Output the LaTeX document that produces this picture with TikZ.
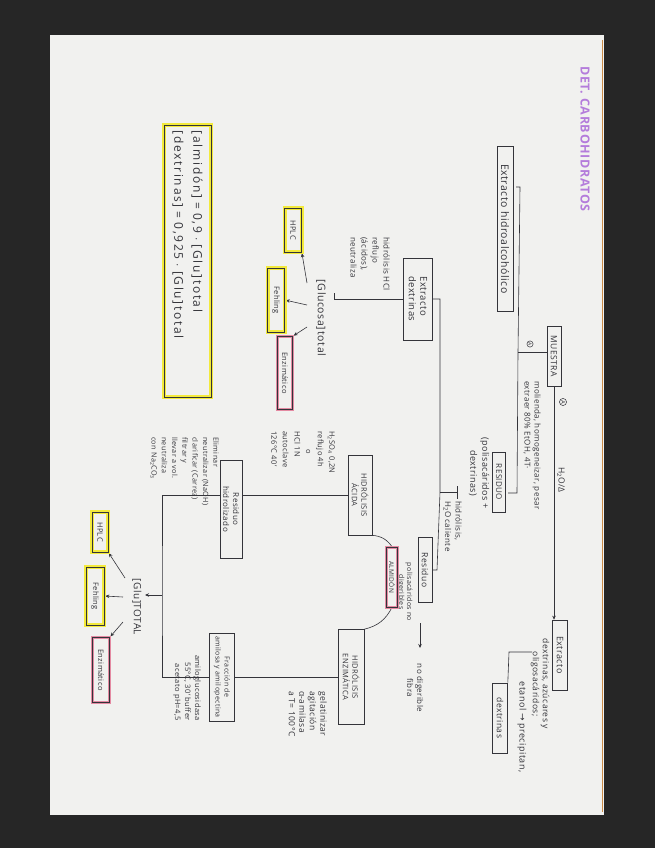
\documentclass[tikz,border=0pt]{standalone}
\usepackage{fontspec}
\setmainfont{Open Sans}[LetterSpace=5]
\newfontfamily\symf{DejaVu Sans}
\newfontfamily\widef{Open Sans}[LetterSpace=14]
\usetikzlibrary{arrows.meta,backgrounds}
\definecolor{ink}{HTML}{34343A}
\definecolor{paper}{HTML}{F1F1EF}
\definecolor{darkbg}{HTML}{262626}
\definecolor{hly}{HTML}{F3EA3C}
\definecolor{hlp}{HTML}{E48AA2}
\definecolor{purp}{HTML}{B47CDB}
\definecolor{edgec}{HTML}{C98A45}
\newcommand{\fs}[1]{\fontsize{#1}{#1}\selectfont}
\begin{document}
\begin{tikzpicture}[x=1pt,y=-1pt,
  every node/.style={text=ink},
  lbl/.style={rotate=-90, inner sep=1pt},
  bx/.style={lbl, draw=ink, line width=0.6pt, inner sep=2pt},
  hlbox/.style={bx, preaction={draw=hly, line width=4pt}},
  pkbox/.style={bx, preaction={draw=hlp, line width=3pt}},
  con/.style={draw=ink, line width=0.6pt},
  arr/.style={con, -{Stealth[length=4pt,width=3.5pt]}},
  circA/.style={circle, draw=ink, line width=0.5pt, inner sep=0.5pt, rotate=-90}
  ]
\useasboundingbox (0,0) rectangle (655,848);
% title
\node[lbl, text=purp, font=\fs{12.5}\bfseries] (title) at (585,139) {DET. CARBOHIDRATOS};
% top part
\node[bx, minimum width=165, minimum height=16, font=\fs{10.5}] (exth) at (505,229) {Extracto hidroalcohólico};
\node[bx, minimum width=60, minimum height=14, font=\fs{8.5}] (muestra) at (554,356) {MUESTRA};
\node[circA, font=\fs{5}] (ca1) at (530,344) {A};
\node[circA, font=\fs{6}] (ca2) at (563,402) {A};
\node[lbl, font=\fs{8.5}] (h2o) at (561,480) {H\textsubscript{2}O/Δ};
\node[lbl, anchor=north west, align=left, font=\fontsize{8}{10}\selectfont] (mtxt) at (542,380) {molienda, homogeneizar, pesar\\extraer 80\% EtOH, 4T·};
\node[bx, minimum width=70, minimum height=15, font=\fs{9}] (ext2) at (560,655) {Extracto};
\node[lbl, align=center, font=\fontsize{8.5}{10}\selectfont] (ext2t) at (540,684) {dextrinas, azúcares y\\oligosacáridos;};
\node[lbl, font=\fs{9}] (etan) at (522,727) {etanol {\symf →} precipitan,};
\node[bx, minimum width=70, minimum height=15, font=\fs{8.5}] (dex) at (500,718) {dextrinas};
\node[bx, minimum width=60, minimum height=13, font=\fs{8}] (res1) at (499,482) {RESIDUO};
\node[lbl, align=center, font=\fontsize{9}{12}\selectfont] (res1t) at (479,473) {(polisacáridos +\\dextrinas)};
\node[bx, minimum width=82, minimum height=29, align=left, font=\fontsize{9.5}{11.5}\selectfont] (extd) at (418,299) {Extracto\\dextrinas};
\node[lbl, anchor=north west, align=left, font=\fontsize{8}{10.5}\selectfont] (hwt) at (463,500) {hidrólisis,\\H\textsubscript{2}O caliente};
\node[bx, minimum width=65, minimum height=14, font=\fs{8.5}] (res2) at (425,570) {Residuo};
\node[lbl, align=center, font=\fontsize{7}{8}\selectfont] (res2t) at (405,592) {polisacáridos no\\digeribles};
\node[pkbox, minimum width=60, minimum height=11, font=\fs{6.5}] (alm) at (392,577) {ALMIDÓN};
\node[lbl, align=center, font=\fontsize{8}{10}\selectfont] (fib) at (415,688) {no digerible\\fibra};
% glucosa branch (top-left)
\node[lbl, anchor=north west, align=left, font=\fontsize{8}{11}\selectfont] (hcl) at (391,236) {hidrólisis HCl\\reflujo\\(ácidos),\\neutraliza};
\node[lbl, font=\fs{10.5}] (glu1) at (321,318) {[Glucosa]\,total};
\node[hlbox, minimum width=44, minimum height=17, font=\fs{7.5}] (hplc1) at (293,230) {HPLC};
\node[hlbox, minimum width=64, minimum height=17, font=\fs{7.5}] (feh1) at (276,300) {Fehling};
\node[pkbox, minimum width=73, minimum height=15, font=\fs{7.5}] (enz1) at (285,373) {Enzimático};
\node[hlbox, minimum width=272, minimum height=47, text width=260pt, align=left, font=\widef\fontsize{12}{19}\selectfont] (form) at (187.5,261) {{[}almidón{]} = 0,9 $\cdot$ {[}Glu{]}\,total\\{[}dextrinas{]} = 0,925 $\cdot$ {[}Glu{]}\,total};
% acid hydrolysis
\node[bx, minimum width=80, minimum height=24, align=center, font=\fontsize{7.5}{9.5}\selectfont] (hac) at (360,495) {HIDRÓLISIS\\ÁCIDA};
\node[lbl, anchor=north west, align=left, font=\fontsize{7.5}{11.6}\selectfont] (hact) at (336,430) {H\textsubscript{2}SO\textsubscript{4} 0,2N\\reflujo 4h\\\hspace{2.5em}o\\HCl 1N\\autoclave\\126°C 40'};
\node[bx, fill=paper, minimum width=98, minimum height=22, align=center, font=\fontsize{8}{10}\selectfont] (resh) at (231,509) {Residuo\\hidrolizado};
\node[lbl, anchor=north west, align=left, font=\fontsize{7.2}{10.3}\selectfont] (elim) at (220,436) {Eliminar\\neutralizar (NaOH)\\clarificar (Carrez)\\filtrar y\\llevar a vol.\\neutraliza\\con Na\textsubscript{2}CO\textsubscript{3}};
% enzymatic hydrolysis
\node[bx, minimum width=95, minimum height=26, align=center, font=\fontsize{7.5}{9.5}\selectfont] (henz) at (351,677) {HIDRÓLISIS\\ENZIMÁTICA};
\node[lbl, anchor=north west, align=left, font=\fontsize{8.5}{10.5}\selectfont] (enzt) at (328,690) {gelatinizar\\agitación\\α-amilasa\\a T= 100°C};
\node[bx, fill=paper, minimum width=88, minimum height=25, align=center, font=\fontsize{7}{9}\selectfont] (frac) at (222,677) {Fracción de\\amilosa y amilopectina};
\node[lbl, anchor=north east, align=right, font=\fontsize{7.5}{10}\selectfont] (amg) at (202,722) {amiloglucosidasa\\55°C, 30' buffer\\acetato pH=4,5};
% bottom glucose
\node[lbl, font=\fs{10}] (glu2) at (137,607) {[Glu]TOTAL};
\node[hlbox, minimum width=40, minimum height=16, font=\fs{7.5}] (hplc2) at (100,532) {HPLC};
\node[hlbox, minimum width=58, minimum height=18, font=\fs{7.5}] (feh2) at (95,596) {Fehling};
\node[pkbox, minimum width=65, minimum height=17, font=\fs{7.5}] (enz2) at (101,670) {Enzimático};
% coordinates
\coordinate (b1t) at (520,187);
\coordinate (b1j) at (518,352);
\coordinate (b1b) at (517,493);
\coordinate (b2t) at (440,299);
\coordinate (b2m) at (440,492);
\coordinate (b2b) at (437,570);
\coordinate (bt) at (162,495);
\coordinate (bm) at (162,595);
\coordinate (bb) at (162,677);
\coordinate (g1a) at (307,283);
\coordinate (g1b) at (307,305);
\coordinate (g1c) at (307,327);
\coordinate (g2a) at (125,578);
\coordinate (g2b) at (123,597);
\coordinate (g2c) at (123,622);
\coordinate (fa) at (420,623);
\coordinate (fb) at (420,648);
\begin{scope}[on background layer]
\fill[darkbg] (0,0) rectangle (655,848);
\fill[paper] (50,35) rectangle (604,815);
\draw[edgec, line width=1pt] (602,40) -- (602,812);
% bracket muestra
\draw[con] (516,187) -- (b1t) -- (b1j) -- (b1b) -- (508,493);
\draw[con] (muestra.south |- b1j) -- (b1j);
\draw[arr] (muestra.east) -- (muestra.east |- ext2.west);
\draw[con] (532,652) -- (509,652) -- (dex.north west);
% bracket residuo
\draw[con] (extd.north) -- (b2t) -- (b2m) -- (b2b) -- (res2.north);
\draw[con] (b2m) -- (457,492);
\draw[con] (457,486) -- (457,499);
\draw[arr] (fa) -- (fb);
% almidon curves
\draw[con] (hac.north east) to[bend left=25] (alm.west);
\draw[con] (alm.east) to[bend left=25] (henz.north west);
% glucose 1
\draw[con] (extd.south) -- (334,299) -- (334,293);
\draw[arr, shorten >=1pt] (g1a) -- (hplc1.north east);
\draw[arr, shorten >=1pt] (g1b) -- (feh1.north);
\draw[arr, shorten >=1pt] (g1c) -- (enz1.north west);
% main bracket
\draw[con] (hac.south) -- (bt) -- (bm) -- (bb) -- (henz.south);
\draw[arr] (bm) -- (145,595);
\draw[arr, shorten >=1pt] (g2a) -- (hplc2.north east);
\draw[arr, shorten >=1pt] (g2b) -- (feh2.north);
\draw[arr, shorten >=1pt] (g2c) -- (enz2.north west);
\end{scope}
\end{tikzpicture}
\end{document}
